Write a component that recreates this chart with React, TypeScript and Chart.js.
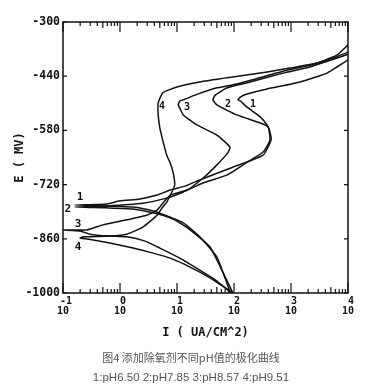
import React, { useEffect, useRef } from "react";
import { Chart, registerables } from "chart.js";

Chart.register(...registerables);

// ---- axes ----
const xTickValues = [0.1, 1, 10, 100, 1000, 10000];
const xTickExponents = ["-1", "0", "1", "2", "3", "4"];
const yTickValues = [-1000, -860, -720, -580, -440, -300];
const xTitle = "I ( UA/CM^2)";
const yTitle = "E ( MV)";

// ---- curves: current density I (uA/cm2) and potential E (mV) ----
const curve1I = [85.1, 50.1, 25.1, 12.9, 6.17, 3.8, 1.7, 0.589, 0.162, 0.589, 1.0, 2.24, 4.47, 7.59, 13.8, 25.1, 95.5, 324, 447, 427, 380, 288, 170, 129, 117, 129, 170, 380, 1445, 4266, 10000];
const curve1E = [-997, -907, -855, -819, -799, -788, -778, -775, -773, -770, -762, -757, -747, -734, -724, -708, -675, -644, -605, -584, -566, -545, -520, -504, -501, -494, -486, -473, -455, -432, -398];

const curve2I = [95.5, 64.6, 38.0, 17.0, 11.2, 7.59, 4.68, 1.7, 0.589, 0.162, 0.589, 2.51, 6.61, 12.9, 28.8, 75.9, 170, 324, 427, 398, 288, 112, 50.1, 42.7, 46.8, 75.9, 191, 724, 2138, 6457, 10000];
const curve2E = [-1000, -948, -881, -837, -819, -806, -796, -783, -780, -778, -775, -768, -755, -739, -716, -695, -662, -636, -605, -571, -561, -540, -514, -501, -489, -470, -455, -432, -416, -393, -383];

const curve3I = [85.1, 46.8, 25.1, 11.2, 5.01, 2.75, 1.32, 0.661, 0.295, 0.2, 0.1, 0.263, 0.5, 1.32, 2.95, 4.47, 5.62, 7.59, 15.1, 28.8, 50.1, 77.6, 85.1, 50.1, 22.4, 12.9, 11.2, 10.5, 11.2, 12.9, 22.4, 50.1, 85.1, 191, 724, 2138, 6457, 10000];
const curve3E = [-997, -966, -941, -910, -884, -866, -855, -853, -848, -840, -837, -837, -824, -811, -799, -786, -768, -747, -734, -703, -669, -638, -623, -592, -566, -540, -522, -514, -504, -501, -487, -470, -464, -451, -427, -412, -389, -378];

const curve4I = [95.5, 38.0, 17.0, 7.59, 3.8, 1.7, 0.661, 0.339, 0.2, 0.224, 0.661, 1.32, 2.51, 4.47, 5.62, 6.61, 8.13, 9.12, 8.51, 7.59, 6.61, 5.62, 5.01, 4.68, 4.68, 5.62, 10, 25.1, 95.5, 380, 955, 2884, 6457, 10000];
const curve4E = [-1000, -961, -933, -910, -897, -884, -871, -863, -858, -855, -853, -848, -830, -799, -778, -765, -739, -721, -687, -664, -644, -605, -574, -540, -509, -483, -468, -455, -442, -429, -419, -406, -385, -359];

// ---- curve number labels ----
const curveLabelText = ["1", "2", "3", "4", "4", "3", "2", "1"];
const curveLabelI = [0.2, 0.122, 0.183, 0.183, 5.46, 15.0, 78.5, 215];
const curveLabelE = [-752, -783, -822, -881, -517, -520, -512, -514];

const captionTitle = "图4 添加除氧剂不同pH值的极化曲线";
const captionLegend = "1:pH6.50 2:pH7.85 3:pH8.57 4:pH9.51";

const INK = "#111";
const MONO = "'DejaVu Sans Mono', 'Liberation Mono', monospace";

const toPoints = (xs: number[], ys: number[]) => xs.map((v, i) => ({ x: v, y: ys[i] }));

const framePlugin = {
  id: "frameTicks",
  afterDatasetsDraw(chart: any) {
    const { ctx, chartArea, scales } = chart;
    const { left, right, top, bottom } = chartArea;
    const xs = scales.x;
    const ys = scales.y;
    ctx.save();
    ctx.strokeStyle = INK;
    ctx.lineWidth = 1.5;
    ctx.strokeRect(left, top, right - left, bottom - top);
    ctx.lineWidth = 1.2;
    ctx.beginPath();
    xTickValues.forEach((base, d) => {
      const px = xs.getPixelForValue(base);
      ctx.moveTo(px, bottom);
      ctx.lineTo(px, bottom - 10);
      ctx.moveTo(px, top);
      ctx.lineTo(px, top + 10);
      if (d < xTickValues.length - 1) {
        for (let m = 2; m <= 9; m++) {
          const mp = xs.getPixelForValue(base * m);
          const len = m === 5 ? 6 : 4;
          ctx.moveTo(mp, bottom);
          ctx.lineTo(mp, bottom - len);
          ctx.moveTo(mp, top);
          ctx.lineTo(mp, top + len);
        }
      }
    });
    yTickValues.forEach((v) => {
      const py = ys.getPixelForValue(v);
      ctx.moveTo(left, py);
      ctx.lineTo(left + 4, py);
      ctx.moveTo(right, py);
      ctx.lineTo(right - 4, py);
    });
    ctx.stroke();

    ctx.fillStyle = INK;
    ctx.textAlign = "center";
    ctx.textBaseline = "middle";
    curveLabelText.forEach((t, i) => {
      ctx.font = `bold ${i < 4 ? 11 : 10}px ${MONO}`;
      ctx.fillText(t, xs.getPixelForValue(curveLabelI[i]), ys.getPixelForValue(curveLabelE[i]));
    });
    ctx.restore();
  },
};

export default function App() {
  const canvasRef = useRef<HTMLCanvasElement | null>(null);

  useEffect(() => {
    document.body.style.margin = "0";
    const canvas = canvasRef.current;
    if (!canvas) return;
    const series = [
      toPoints(curve1I, curve1E),
      toPoints(curve2I, curve2E),
      toPoints(curve3I, curve3E),
      toPoints(curve4I, curve4E),
    ];
    const chart = new Chart(canvas, {
      type: "scatter",
      data: {
        datasets: series.map((pts, i) => ({
          label: String(i + 1),
          data: pts,
          showLine: true,
          borderColor: INK,
          backgroundColor: INK,
          borderWidth: 1.5,
          pointRadius: 0,
          tension: 0.15,
        })),
      },
      options: {
        responsive: false,
        animation: false,
        events: [],
        layout: { padding: { left: 8, right: 18, top: 22, bottom: 46 } },
        plugins: {
          legend: { display: false },
          tooltip: { enabled: false },
        },
        scales: {
          x: {
            type: "logarithmic",
            position: "bottom",
            min: 0.1,
            max: 10000,
            grid: { display: false, drawTicks: false },
            border: { display: false },
            afterBuildTicks: (scale: any) => {
              scale.ticks = xTickValues.map((v) => ({ value: v }));
            },
            afterFit: (scale: any) => {
              scale.height = 50;
            },
            ticks: {
              autoSkip: false,
              maxRotation: 0,
              minRotation: 0,
              padding: 3,
              color: INK,
              font: { family: MONO, size: 10, weight: "bold", lineHeight: 1.0 },
              callback: (v: any) => {
                const idx = xTickValues.indexOf(Number(v));
                return idx >= 0 ? [" " + xTickExponents[idx], "10"] : "";
              },
            },
            title: {
              display: true,
              text: xTitle,
              color: INK,
              font: { family: MONO, size: 12, weight: "bold" },
              padding: { top: 0, bottom: 3 },
            },
          },
          y: {
            type: "linear",
            min: -1000,
            max: -300,
            grid: { display: false, drawTicks: false },
            border: { display: false },
            afterBuildTicks: (scale: any) => {
              scale.ticks = yTickValues.map((v) => ({ value: v }));
            },
            afterFit: (scale: any) => {
              scale.width = 55;
            },
            ticks: {
              padding: 3,
              color: INK,
              font: { family: MONO, size: 11.5, weight: "bold" },
              callback: (v: any) => String(v),
            },
            title: {
              display: true,
              text: yTitle,
              color: INK,
              font: { family: MONO, size: 12, weight: "bold" },
              padding: { top: 5, bottom: 0 },
            },
          },
        },
      },
      plugins: [framePlugin],
    });
    return () => chart.destroy();
  }, []);

  return (
    <div style={{ position: "absolute", left: 0, top: 0, width: 366, height: 389, background: "#fff" }}>
      <canvas ref={canvasRef} width={366} height={389} style={{ display: "block" }} />
      <div
        style={{
          position: "absolute",
          left: 8,
          top: 350,
          width: 366,
          lineHeight: "14px",
          textAlign: "center",
          fontFamily: "'Noto Sans CJK SC', sans-serif",
          fontSize: 11,
          color: "#555",
        }}
      >
        {captionTitle}
      </div>
      <div
        style={{
          position: "absolute",
          left: 8,
          top: 370,
          width: 366,
          lineHeight: "14px",
          textAlign: "center",
          fontFamily: "'Liberation Sans', sans-serif",
          fontSize: 11.5,
          color: "#555",
        }}
      >
        {captionLegend}
      </div>
    </div>
  );
}
